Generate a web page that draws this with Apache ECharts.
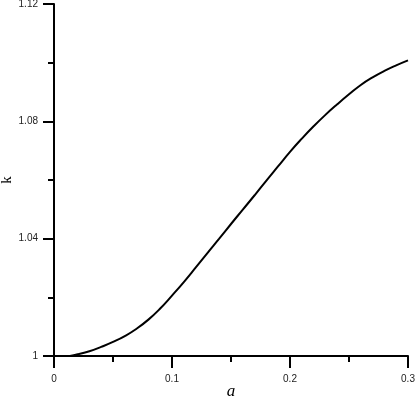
<!DOCTYPE html>
<html>
<head>
<meta charset="utf-8">
<script src="https://cdn.jsdelivr.net/npm/echarts@6/dist/echarts.min.js"></script>
<style>
  html, body { margin: 0; padding: 0; background: #fff; }
  #chart { width: 415px; height: 400px; }
</style>
</head>
<body>
<div id="chart"></div>
<script>
// values
var aValues = [0, 0.01, 0.02, 0.03, 0.04, 0.05, 0.06, 0.07, 0.08, 0.09, 0.10,
  0.11, 0.12, 0.13, 0.14, 0.15, 0.16, 0.17, 0.18, 0.19, 0.20,
  0.21, 0.22, 0.23, 0.24, 0.25, 0.26, 0.27, 0.28, 0.29, 0.30];
var kValues = [1.0000, 1.0000, 1.0006, 1.0016, 1.0031, 1.0048, 1.0068, 1.0093, 1.0124, 1.0162, 1.0206,
  1.0252, 1.0301, 1.0351, 1.0400, 1.0450, 1.0499, 1.0548, 1.0598, 1.0647, 1.0696,
  1.0741, 1.0783, 1.0822, 1.0858, 1.0892, 1.0924, 1.0950, 1.0972, 1.0991, 1.1008];
var xTicks = [0, 0.1, 0.2, 0.3];
var yTicks = [1, 1.04, 1.08, 1.12];

var chart = echarts.init(document.getElementById("chart"));

var points = aValues.map(function (a, i) { return [a, kValues[i]]; });

var labelStyle = {
  color: "#222",
  fontFamily: "Liberation Sans, Arial, sans-serif",
  fontSize: 10
};

var option = {
  animation: false,
  grid: { left: 54, right: 7, top: 4, bottom: 44, containLabel: false, outerBoundsMode: "none" },
  xAxis: {
    type: "value",
    min: xTicks[0],
    max: xTicks[xTicks.length - 1],
    interval: 0.1,
    name: "a",
    nameLocation: "middle",
    nameGap: 27,
    nameMoveOverlap: false,
    nameTextStyle: {
      fontFamily: "Liberation Serif, Times New Roman, serif",
      fontStyle: "italic",
      fontSize: 17,
      color: "#000"
    },
    axisLine: { show: true, onZero: false, lineStyle: { color: "#000", width: 2 } },
    axisTick: { show: true, inside: false, length: 12, lineStyle: { color: "#000", width: 2 } },
    minorTick: { show: true, splitNumber: 2, length: 6, lineStyle: { color: "#000", width: 2 } },
    splitLine: { show: false },
    axisLabel: Object.assign({ margin: 18 }, labelStyle)
  },
  yAxis: {
    type: "value",
    min: yTicks[0],
    max: yTicks[yTicks.length - 1],
    interval: 0.04,
    name: "k",
    nameLocation: "middle",
    nameGap: 39,
    nameRotate: 90,
    nameMoveOverlap: false,
    nameTextStyle: {
      fontFamily: "Liberation Serif, Times New Roman, serif",
      fontSize: 15,
      color: "#000"
    },
    axisLine: { show: true, onZero: false, lineStyle: { color: "#000", width: 2 } },
    axisTick: { show: true, inside: false, length: 11, lineStyle: { color: "#000", width: 2 } },
    minorTick: { show: true, splitNumber: 2, length: 6, lineStyle: { color: "#000", width: 2 } },
    splitLine: { show: false },
    axisLabel: Object.assign({
      margin: 16,
      formatter: function (v) { return String(Math.round(v * 100) / 100); }
    }, labelStyle)
  },
  series: [
    {
      type: "line",
      data: points,
      smooth: true,
      showSymbol: false,
      lineStyle: { color: "#000", width: 2 }
    }
  ]
};

chart.setOption(option);
</script>
</body>
</html>
